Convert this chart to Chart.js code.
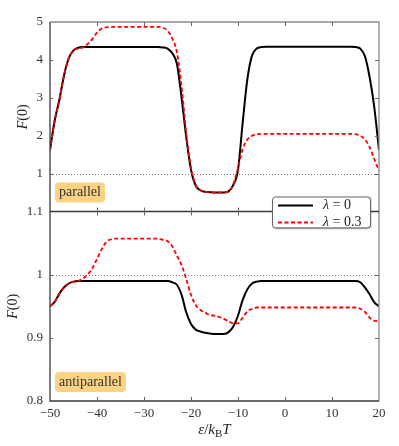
<!DOCTYPE html>
<html>
<head>
<meta charset="utf-8">
<script src="https://cdn.jsdelivr.net/npm/chart.js@4"></script>
<style>
html, body { margin: 0; padding: 0; background: #fff; }
</style>
</head>
<body>
<canvas id="grafico" width="399" height="446"></canvas>
<script>
// Energia reduzida eps/kBT
const eixoX = [-50, -49, -48, -47, -46, -45, -44, -43, -42, -41, -40, -39, -38, -37, -36,
  -32, -28,
  -27, -26, -25, -24, -23, -22, -21, -20, -19, -18, -17, -16, -15, -14, -13, -12, -11, -10, -9, -8, -7, -6, -5, -4,
  0, 5, 10,
  14, 15, 16, 17, 18, 19, 20];

// Painel de cima: configuração paralela
const paraleloL0 = [1.62, 2.4, 2.95, 3.6, 4.05, 4.25, 4.32, 4.34, 4.34, 4.34, 4.34, 4.34, 4.34, 4.34, 4.34,
  4.34, 4.34,
  4.34, 4.33, 4.3, 4.18, 3.9, 3.0, 1.95, 1.1, 0.68, 0.56, 0.52, 0.51, 0.5, 0.5, 0.5, 0.53, 0.7, 1.1, 2.35, 3.5, 4.12, 4.3, 4.34, 4.35,
  4.35, 4.35, 4.35,
  4.35, 4.34, 4.3, 4.1, 3.55, 2.75, 1.62];
const paraleloL03 = [1.62, 2.4, 2.95, 3.6, 4.05, 4.25, 4.3, 4.33, 4.42, 4.55, 4.72, 4.83, 4.86, 4.87, 4.87,
  4.87, 4.87,
  4.87, 4.85, 4.77, 4.57, 4.2, 3.3, 2.05, 1.15, 0.7, 0.56, 0.52, 0.51, 0.5, 0.5, 0.5, 0.53, 0.72, 1.15, 1.65, 1.9, 2.0, 2.04, 2.05, 2.05,
  2.05, 2.05, 2.05,
  2.05, 2.04, 2.0, 1.9, 1.7, 1.38, 1.08];

// Painel de baixo: configuração antiparalela
const antiL0 = [0.95, 0.957, 0.97, 0.98, 0.986, 0.989, 0.99, 0.99, 0.99, 0.99, 0.99, 0.99, 0.99, 0.99, 0.99,
  0.99, 0.99,
  0.99, 0.99, 0.99, 0.988, 0.984, 0.968, 0.94, 0.922, 0.913, 0.91, 0.908, 0.907, 0.906, 0.906, 0.906, 0.909, 0.918, 0.935, 0.96, 0.977, 0.986, 0.989, 0.99, 0.99,
  0.99, 0.99, 0.99,
  0.99, 0.99, 0.988, 0.98, 0.969, 0.956, 0.95];
const antiL03 = [0.95, 0.957, 0.97, 0.98, 0.986, 0.989, 0.99, 0.994, 1.0, 1.01, 1.025, 1.04, 1.052, 1.056, 1.057,
  1.057, 1.057,
  1.057, 1.055, 1.053, 1.045, 1.03, 1.015, 0.993, 0.968, 0.952, 0.944, 0.94, 0.936, 0.935, 0.933, 0.93, 0.926, 0.923, 0.923, 0.932, 0.942, 0.946, 0.948, 0.948, 0.948,
  0.948, 0.948, 0.948,
  0.948, 0.948, 0.946, 0.941, 0.932, 0.927, 0.927];

const rotulosPainel = ['parallel', 'antiparallel'];
const legendaLambda = ['0', '0.3'];

const FONTE = '"Liberation Serif", "Times New Roman", serif';

function pontos(ys) {
  return eixoX.map((x, i) => ({ x: x, y: ys[i] }));
}

function menos(v) {
  return v < 0 ? '\u2212' + Math.abs(v) : String(v);
}

function fontePara(estilo, tam) {
  if (estilo === 'i') return 'italic ' + tam + 'px ' + FONTE;
  if (estilo === 's') return Math.round(tam * 0.7) + 'px ' + FONTE;
  return tam + 'px ' + FONTE;
}

// Escreve texto com partes em itálico / subscrito
function textoMisto(ctx, partes, x, y, tam, alinhar) {
  let total = 0;
  const larguras = partes.map(p => {
    ctx.font = fontePara(p[1], tam);
    const w = ctx.measureText(p[0]).width;
    total += w;
    return w;
  });
  let cx = alinhar === 'left' ? x : x - total / 2;
  ctx.textAlign = 'left';
  ctx.textBaseline = 'middle';
  partes.forEach((p, i) => {
    ctx.font = fontePara(p[1], tam);
    ctx.fillText(p[0], cx, y + (p[1] === 's' ? tam * 0.3 : 0));
    cx += larguras[i];
  });
}

function caixaArredondada(ctx, x, y, w, h, r) {
  ctx.beginPath();
  ctx.moveTo(x + r, y);
  ctx.arcTo(x + w, y, x + w, y + h, r);
  ctx.arcTo(x + w, y + h, x, y + h, r);
  ctx.arcTo(x, y + h, x, y, r);
  ctx.arcTo(x, y, x + w, y, r);
  ctx.closePath();
}

const decoracao = {
  id: 'decoracao',
  beforeDatasetsDraw(chart) {
    const ctx = chart.ctx;
    const a = chart.chartArea;
    ctx.save();
    ctx.strokeStyle = '#777';
    ctx.lineWidth = 1;
    ctx.setLineDash([1, 2]);
    ['yTop', 'yBot'].forEach(id => {
      const py = Math.round(chart.scales[id].getPixelForValue(1)) + 0.5;
      ctx.beginPath();
      ctx.moveTo(a.left, py);
      ctx.lineTo(a.right, py);
      ctx.stroke();
    });
    ctx.restore();
  },
  afterDraw(chart) {
    const ctx = chart.ctx;
    const a = chart.chartArea;
    const sx = chart.scales.x;
    const sTop = chart.scales.yTop;
    const sBot = chart.scales.yBot;
    const divisa = sTop.bottom;
    ctx.save();

    // moldura
    ctx.lineWidth = 1.3;
    ctx.strokeStyle = '#8a8a8a';
    ctx.beginPath();
    ctx.moveTo(a.left, a.top); ctx.lineTo(a.right, a.top); ctx.lineTo(a.right, a.bottom);
    ctx.stroke();
    ctx.strokeStyle = '#3a3a3a';
    ctx.beginPath();
    ctx.moveTo(a.left, a.top); ctx.lineTo(a.left, a.bottom); ctx.lineTo(a.right, a.bottom);
    ctx.moveTo(a.left, divisa); ctx.lineTo(a.right, divisa);
    ctx.stroke();

    // marcas internas
    ctx.lineWidth = 1;
    ctx.strokeStyle = '#666';
    ctx.beginPath();
    sx.ticks.forEach(t => {
      const px = Math.round(sx.getPixelForValue(t.value)) + 0.5;
      if (px < a.left + 2 || px > a.right - 2) return;
      ctx.moveTo(px, a.top); ctx.lineTo(px, a.top + 4);
      ctx.moveTo(px, divisa - 4); ctx.lineTo(px, divisa + 4);
      ctx.moveTo(px, a.bottom); ctx.lineTo(px, a.bottom - 4);
    });
    [sTop, sBot].forEach(s => {
      s.ticks.forEach(t => {
        const py = Math.round(s.getPixelForValue(t.value)) + 0.5;
        if (py < s.top + 2 || py > s.bottom - 2) return;
        ctx.moveTo(a.left, py); ctx.lineTo(a.left + 3, py);
        ctx.moveTo(a.right, py); ctx.lineTo(a.right - 4, py);
      });
    });
    ctx.stroke();

    // títulos dos eixos
    ctx.fillStyle = '#222';
    [sTop, sBot].forEach(s => {
      ctx.font = fontePara('r', 13);
      let maxW = 0;
      s.ticks.forEach(t => { maxW = Math.max(maxW, ctx.measureText(t.label).width); });
      const tx = a.left - 7 - maxW - 13;
      const ty = (s.top + s.bottom) / 2;
      ctx.save();
      ctx.translate(tx, ty);
      ctx.rotate(-Math.PI / 2);
      textoMisto(ctx, [['F', 'i'], ['(0)', 'r']], 0, 0, 14, 'center');
      ctx.restore();
    });
    textoMisto(ctx, [['\u03b5', 'i'], ['/', 'r'], ['k', 'i'], ['B', 's'], ['T', 'i']],
      (a.left + a.right) / 2, a.bottom + 29, 15, 'center');

    // etiquetas dos painéis
    [[sTop, rotulosPainel[0]], [sBot, rotulosPainel[1]]].forEach(([s, txt]) => {
      ctx.font = fontePara('r', 14);
      const w = ctx.measureText(txt).width + 8;
      const bx = a.left + 5;
      const by = s.bottom - 29;
      ctx.fillStyle = 'rgba(251,196,90,0.75)';
      caixaArredondada(ctx, bx, by, w, 20, 4);
      ctx.fill();
      ctx.fillStyle = '#333';
      textoMisto(ctx, [[txt, 'r']], bx + 4, by + 10, 14, 'left');
    });

    // legenda
    const lx = a.right - 107, ly = divisa - 15, lw = 98, lh = 31;
    ctx.save();
    ctx.shadowColor = 'rgba(0,0,0,0.45)';
    ctx.shadowBlur = 2;
    ctx.shadowOffsetX = 1;
    ctx.shadowOffsetY = 1;
    ctx.fillStyle = '#fff';
    caixaArredondada(ctx, lx, ly, lw, lh, 3);
    ctx.fill();
    ctx.restore();
    ctx.lineWidth = 1;
    ctx.strokeStyle = '#666';
    caixaArredondada(ctx, lx + 0.5, ly + 0.5, lw, lh, 3);
    ctx.stroke();
    const amostras = chart.data.datasets.filter(d => d.yAxisID === 'yTop');
    [amostras[1], amostras[0]].forEach((d, i) => {
      const yy = ly + 9 + i * 17;
      ctx.strokeStyle = d.borderColor;
      ctx.lineWidth = d.borderWidth;
      ctx.setLineDash(d.borderDash || []);
      ctx.beginPath();
      ctx.moveTo(lx + 6, yy); ctx.lineTo(lx + 41, yy);
      ctx.stroke();
      ctx.setLineDash([]);
      ctx.fillStyle = '#222';
      textoMisto(ctx, [['\u03bb', 'i'], [' = ' + legendaLambda[i], 'r']], lx + 51, yy, 14, 'left');
    });
    ctx.restore();
  }
};

function serie(ys, eixo, vermelho) {
  return {
    label: eixo + (vermelho ? '-0.3' : '-0'),
    data: pontos(ys),
    yAxisID: eixo,
    borderColor: vermelho ? '#ff0000' : '#000000',
    borderWidth: vermelho ? 1.8 : 2,
    borderDash: vermelho ? [4, 2.5] : [],
    pointRadius: 0,
    fill: false,
    cubicInterpolationMode: 'monotone'
  };
}

const fonteTick = { family: FONTE, size: 13 };
const semGrade = { display: false, drawTicks: false, tickLength: 0 };

const meuGrafico = new Chart(document.getElementById('grafico').getContext('2d'), {
  type: 'line',
  data: {
    datasets: [
      serie(paraleloL03, 'yTop', true),
      serie(paraleloL0, 'yTop', false),
      serie(antiL03, 'yBot', true),
      serie(antiL0, 'yBot', false)
    ]
  },
  options: {
    responsive: false,
    animation: false,
    layout: { padding: { top: 22, right: 20, left: 0, bottom: 0 } },
    plugins: { legend: { display: false }, tooltip: { enabled: false } },
    scales: {
      x: {
        type: 'linear', min: -50, max: 20,
        grid: semGrade, border: { display: false },
        ticks: { stepSize: 10, font: fonteTick, color: '#333', padding: 5, callback: v => menos(v) },
        afterFit: s => { s.height = 45; }
      },
      yBot: {
        type: 'linear', min: 0.8, max: 1.1, position: 'left',
        stack: 'painel', stackWeight: 1,
        grid: semGrade, border: { display: false },
        ticks: { stepSize: 0.1, font: fonteTick, color: '#333', padding: 7, callback: v => String(+v.toFixed(1)) },
        afterFit: s => { s.width = 50; }
      },
      yTop: {
        type: 'linear', min: 0, max: 5, position: 'left',
        stack: 'painel', stackWeight: 1,
        grid: semGrade, border: { display: false },
        ticks: { stepSize: 1, font: fonteTick, color: '#333', padding: 7, callback: v => (v === 0 ? '' : String(v)) },
        afterFit: s => { s.width = 50; }
      }
    }
  },
  plugins: [decoracao]
});
</script>
</body>
</html>
